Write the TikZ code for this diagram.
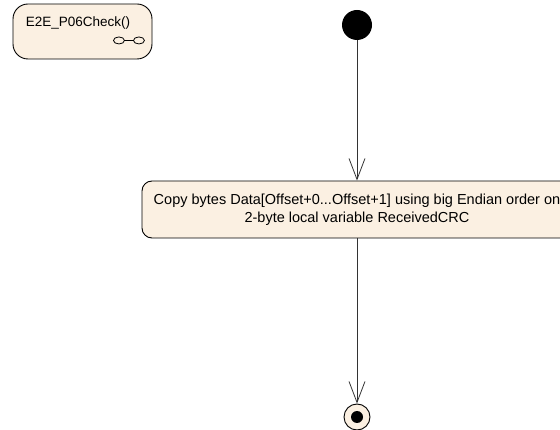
\documentclass[tikz,border=0pt]{standalone}
\usepackage{fontspec}
\setmainfont{Liberation Sans}
\usetikzlibrary{positioning, arrows.meta, calc}
\definecolor{umlfill}{HTML}{FBF0E2}
\definecolor{umlline}{HTML}{333333}

\begin{document}
\begin{tikzpicture}[
      x=1pt, y=-1pt,
      every node/.style={font=\fontsize{14.5}{18}\selectfont},
      statebox/.style={draw=black, line width=0.9pt, fill=umlfill, rounded corners=15pt, minimum width=139pt, minimum height=55pt, inner sep=0pt},
      actbox/.style={draw=black, line width=0.9pt, fill=umlfill, rounded corners=10pt, minimum width=430pt, minimum height=57pt, align=center, inner sep=0pt},
      initnode/.style={circle, fill=black, minimum size=30pt, inner sep=0pt},
      finalnode/.style={circle, draw=black, line width=0.9pt, fill=umlfill, minimum size=26pt, inner sep=0pt},
      flow/.style={->, draw=umlline, line width=0.8pt, >={Straight Barb[length=21pt, width=16pt]}},
    ]
    \clip (0,0) rectangle (560,430);
    \useasboundingbox (0,0) rectangle (560,430);

    % activity frame
    \node[statebox] (chk) at (82.5,31.5) {};
    \node[font=\fontsize{13.5}{16}\selectfont] (chkname) at (78,23.5) {E2E\_P06Check()};
    \coordinate (ico) at ($(chk.south east)+(-33.5,-19)$);
    \draw[thick] (ico) ellipse (5.5pt and 3.5pt);
    \draw[thick] ($(ico)+(20,0)$) ellipse (5.5pt and 3.5pt);
    \draw[thick] ($(ico)+(5.5,0)$) -- ($(ico)+(14.5,0)$);

    % flow
    \node[initnode] (start) at (357,25) {};
    \node[actbox] (copy) at (357,209.5) {Copy bytes Data[Offset+0...Offset+1] using big Endian order on\\2-byte local variable ReceivedCRC};
    \node[finalnode] (stop) at (357,417) {};
    \fill (stop.center) circle (6pt);

    \draw[flow] (start) -- (copy);
    \draw[flow] (copy) -- (stop);
  \end{tikzpicture}
\end{document}
